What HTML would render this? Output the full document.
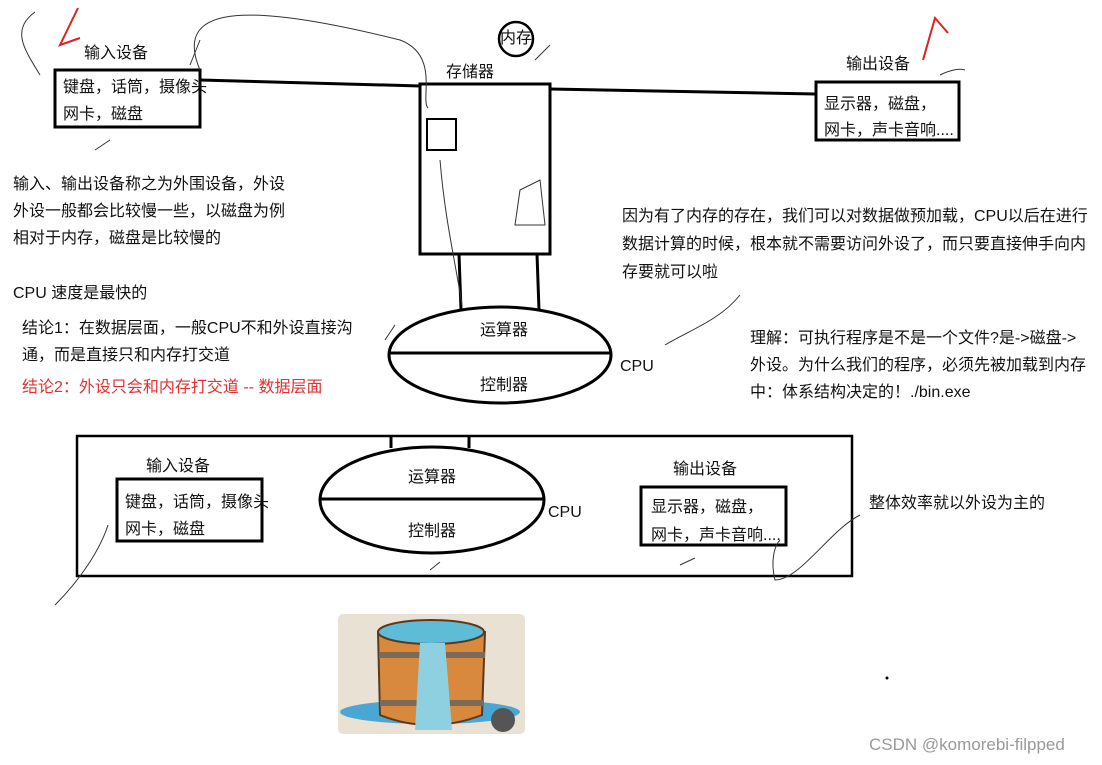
<!DOCTYPE html>
<html><head><meta charset="utf-8"><style>
body{margin:0;width:1102px;height:765px;background:#fff;position:relative;overflow:hidden;font-family:"Liberation Sans","Noto Sans CJK SC",sans-serif;font-size:16px;color:#111}
.t{position:absolute;white-space:nowrap;line-height:22px}
</style></head><body>
<svg width="1102" height="765" style="position:absolute;left:0;top:0">
<g fill="none" stroke="#000" stroke-width="3">
<rect x="55" y="70" width="145" height="57"/>
<rect x="420" y="84" width="130" height="170"/>
<rect x="427" y="119" width="29" height="31" stroke-width="2"/>
<rect x="816" y="82" width="143" height="58"/>
<line x1="200" y1="80" x2="420" y2="86"/>
<line x1="550" y1="89" x2="816" y2="94"/>
<line x1="459" y1="254" x2="461" y2="310"/>
<line x1="537" y1="254" x2="539" y2="310"/>
<ellipse cx="500" cy="355" rx="111" ry="48"/>
<line x1="389" y1="353" x2="611" y2="353"/>
<rect x="77" y="436" width="775" height="140" stroke-width="2.5"/>
<ellipse cx="432" cy="500" rx="112" ry="53"/>
<line x1="320" y1="499" x2="544" y2="499"/>
<rect x="117" y="479" width="145" height="62"/>
<rect x="641" y="487" width="145" height="58"/>
<line x1="391" y1="436" x2="391" y2="448"/>
<line x1="469" y1="436" x2="469" y2="448"/>
<circle cx="516" cy="39" r="17" stroke-width="2.5"/>
</g>
<g fill="none" stroke="#333" stroke-width="1">
<path d="M200 70 C170 0 260 5 400 40 C440 55 420 100 428 108"/>
<path d="M35 12 C10 30 25 50 40 75"/><path d="M190 65 L200 40"/><path d="M95 150 L110 140"/>
<path d="M440 160 C445 220 455 260 462 305"/><path d="M520 190 L540 180 L545 225 L515 225 Z"/>
<path d="M740 295 C720 320 690 330 665 345"/><path d="M385 340 L395 325"/>
<path d="M55 605 C80 580 100 550 108 525"/><path d="M860 515 C830 530 800 580 775 580 C770 560 775 545 780 540"/>
<path d="M680 565 L695 558"/><path d="M430 570 L440 562"/>
<path d="M940 75 C950 70 960 68 965 70"/><path d="M535 60 L550 45"/>
</g>
<path d="M78 8 L60 45 L80 38" fill="none" stroke="#e02020" stroke-width="2"/>
<path d="M923 60 L935 18 L948 33" fill="none" stroke="#e02020" stroke-width="2"/>
<g>
<rect x="338" y="614" width="187" height="120" rx="5" fill="#e9e1d3"/>
<ellipse cx="430" cy="712" rx="90" ry="12" fill="#4aa7d3"/>
<path d="M378 632 L380 715 Q430 735 482 715 L485 632 Z" fill="#d9893e" stroke="#5a3a1f" stroke-width="2"/>
<ellipse cx="431" cy="632" rx="53" ry="12" fill="#5fbcd6" stroke="#5a3a1f" stroke-width="2"/>
<rect x="379" y="652" width="106" height="6" fill="#7b6a55"/>
<rect x="380" y="700" width="104" height="6" fill="#7b6a55"/>
<path d="M420 643 L445 643 L452 730 L415 730 Z" fill="#8fd0e0"/>
<circle cx="503" cy="720" r="12" fill="#555"/>
</g>
<circle cx="887" cy="678" r="1.5" fill="#000"/>
</svg>
<div class="t" style="left:84px;top:43px">输入设备</div>
<div class="t" style="left:63px;top:77px">键盘，话筒，摄像头</div>
<div class="t" style="left:63px;top:104px">网卡，磁盘</div>
<div class="t" style="left:446px;top:62px">存储器</div>
<div class="t" style="left:500px;top:28px">内存</div>
<div class="t" style="left:846px;top:54px">输出设备</div>
<div class="t" style="left:824px;top:94px">显示器，磁盘，</div>
<div class="t" style="left:824px;top:120px">网卡，声卡音响....</div>
<div class="t" style="left:13px;top:174px">输入、输出设备称之为外围设备，外设</div>
<div class="t" style="left:13px;top:201px">外设一般都会比较慢一些，以磁盘为例</div>
<div class="t" style="left:13px;top:228px">相对于内存，磁盘是比较慢的</div>
<div class="t" style="left:13px;top:283px">CPU 速度是最快的</div>
<div class="t" style="left:22px;top:318px">结论1：在数据层面，一般CPU不和外设直接沟</div>
<div class="t" style="left:22px;top:345px">通，而是直接只和内存打交道</div>
<div class="t" style="left:22px;top:377px;color:#e53030">结论2：外设只会和内存打交道 -- 数据层面</div>
<div class="t" style="left:480px;top:320px">运算器</div>
<div class="t" style="left:480px;top:375px">控制器</div>
<div class="t" style="left:620px;top:356px">CPU</div>
<div class="t" style="left:622px;top:206px">因为有了内存的存在，我们可以对数据做预加载，CPU以后在进行</div>
<div class="t" style="left:622px;top:234px">数据计算的时候，根本就不需要访问外设了，而只要直接伸手向内</div>
<div class="t" style="left:622px;top:262px">存要就可以啦</div>
<div class="t" style="left:750px;top:328px">理解：可执行程序是不是一个文件?是-&gt;磁盘-&gt;</div>
<div class="t" style="left:750px;top:355px">外设。为什么我们的程序，必须先被加载到内存</div>
<div class="t" style="left:750px;top:382px">中：体系结构决定的！./bin.exe</div>
<div class="t" style="left:146px;top:456px">输入设备</div>
<div class="t" style="left:125px;top:492px">键盘，话筒，摄像头</div>
<div class="t" style="left:125px;top:519px">网卡，磁盘</div>
<div class="t" style="left:408px;top:467px">运算器</div>
<div class="t" style="left:408px;top:521px">控制器</div>
<div class="t" style="left:548px;top:502px">CPU</div>
<div class="t" style="left:673px;top:459px">输出设备</div>
<div class="t" style="left:651px;top:497px">显示器，磁盘，</div>
<div class="t" style="left:651px;top:525px">网卡，声卡音响....</div>
<div class="t" style="left:869px;top:493px">整体效率就以外设为主的</div>
<div class="t" style="left:869px;top:734px;color:#999;font-size:17px">CSDN @komorebi-filpped</div>
</body></html>
